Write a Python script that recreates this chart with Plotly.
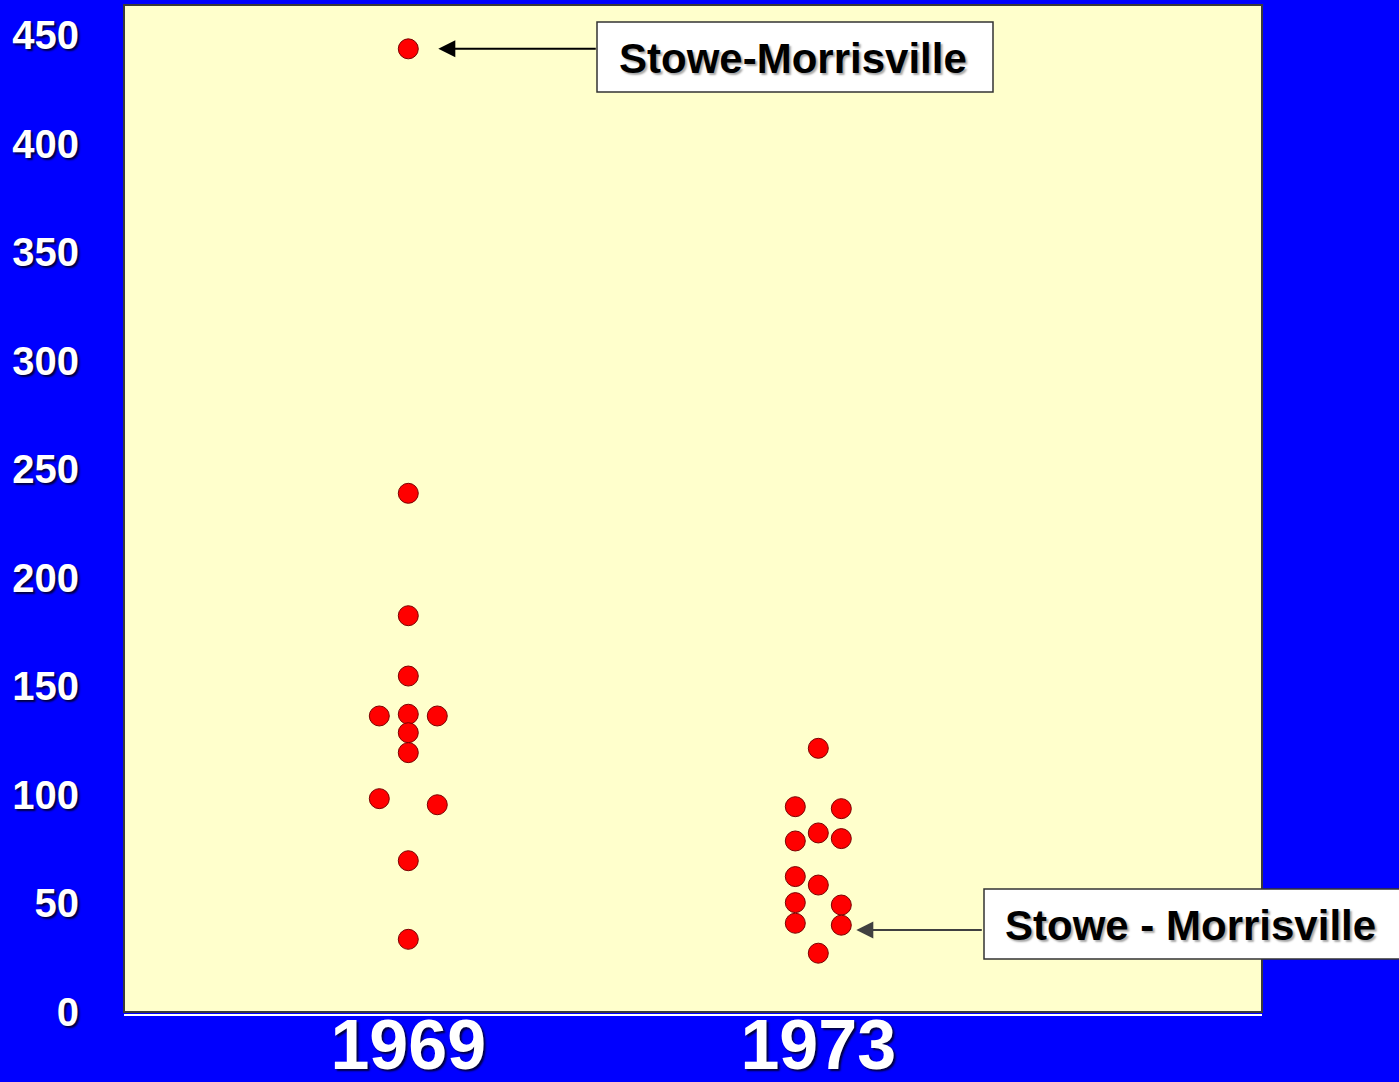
import plotly.graph_objects as go

# ---------------- data ----------------
years = ["1969", "1973"]
values_1969 = [443.8, 239.0, 182.6, 154.8, 136.4, 137.2, 136.4, 128.7, 119.5, 98.3, 95.5, 69.7, 33.5]
columns_1969 = [0, 0, 0, 0, -1, 0, 1, 0, 0, -1, 1, 0, 0]
values_1973 = [121.5, 94.6, 93.7, 82.5, 78.8, 79.9, 62.4, 58.5, 50.4, 49.3, 40.9, 40.0, 27.1]
columns_1973 = [0, -1, 1, 0, -1, 1, -1, 0, -1, 1, -1, 1, 0]
y_ticks = [0, 50, 100, 150, 200, 250, 300, 350, 400, 450]
label_top = "Stowe-Morrisville"
label_bottom = "Stowe - Morrisville"

# ---------------- style ----------------
BLUE = "#0000FF"
PLOT_BG = "#FFFFCC"
FONT = "Liberation Sans, Arial, sans-serif"
spread = {0: 0.0707, 1: 0.0561}

fig = go.Figure()
groups = [(values_1969, columns_1969), (values_1973, columns_1973)]
for gi, (vals, cols) in enumerate(groups):
    xs = [gi + 1 + c * spread[gi] for c in cols]
    fig.add_trace(go.Scatter(
        x=xs, y=vals, mode="markers", name=years[gi],
        marker=dict(size=20, color="#FF0000", line=dict(color="#7A0000", width=1)),
        showlegend=False, hoverinfo="y",
    ))

tick_shadow = "2px 2px 2px #000040"
fig.update_layout(
    width=1399, height=1082,
    paper_bgcolor=BLUE, plot_bgcolor=PLOT_BG,
    margin=dict(l=124, r=137, t=5, b=70, pad=0, autoexpand=False),
    xaxis=dict(
        range=[0.3066, 3.0822], tickvals=[1, 2], ticktext=years,
        showgrid=False, zeroline=False, showline=False, ticks="",
        tickfont=dict(family=FONT, size=70, color="white", weight="bold", shadow=tick_shadow),
        ticklabelstandoff=-14, automargin=False,
    ),
    yaxis=dict(
        range=[0, 464], tickvals=y_ticks,
        showgrid=False, zeroline=False, showline=False, ticks="",
        tickfont=dict(family=FONT, size=40, color="white", weight="bold", shadow=tick_shadow),
        ticklabelstandoff=44, automargin=False,
    ),
)

# plot-area frame
fig.add_shape(type="rect", xref="paper", yref="paper", x0=0, x1=1, y0=0, y1=1,
              line=dict(color="#3A3A3A", width=2), layer="above")
fig.add_shape(type="line", xref="paper", yref="paper", x0=0, x1=1, y0=-0.003, y1=-0.003,
              line=dict(color="white", width=2), layer="above")

# label boxes
fig.add_shape(type="rect", xref="paper", yref="paper",
              x0=(597 - 124) / 1138, x1=(993 - 124) / 1138,
              y0=(1012 - 92) / 1007, y1=(1012 - 22) / 1007,
              line=dict(color="#333333", width=1.5), fillcolor="white", layer="above")
fig.add_shape(type="rect", xref="paper", yref="paper",
              x0=(984 - 124) / 1138, x1=(1420 - 124) / 1138,
              y0=(1012 - 959) / 1007, y1=(1012 - 889) / 1007,
              line=dict(color="#333333", width=1.5), fillcolor="white", layer="above")

text_font = dict(family=FONT, size=42, color="black", weight="bold", shadow="2px 2px 2px rgba(0,0,0,0.35)")
fig.add_annotation(xref="paper", yref="paper", x=(793 - 124) / 1138, y=(1012 - 58) / 1007,
                   text=label_top, showarrow=False, font=text_font,
                   xanchor="center", yanchor="middle")
fig.add_annotation(xref="paper", yref="paper", x=(1190 - 124) / 1138, y=(1012 - 925) / 1007,
                   text=label_bottom, showarrow=False, font=text_font,
                   xanchor="center", yanchor="middle")

# arrows
fig.add_annotation(x=1, y=values_1969[0], xshift=30, text="", showarrow=True,
                   ax=159, ay=0, axref="pixel", ayref="pixel",
                   arrowhead=2, arrowsize=1.7, arrowwidth=2, arrowcolor="black")
fig.add_annotation(x=2 + spread[1], y=37.8, xshift=15, text="", showarrow=True,
                   ax=127, ay=0, axref="pixel", ayref="pixel",
                   arrowhead=2, arrowsize=1.7, arrowwidth=2, arrowcolor="#404040")

fig.write_html("out.html", config={"displayModeBar": False},
               post_script="document.body.style.margin='0';")
